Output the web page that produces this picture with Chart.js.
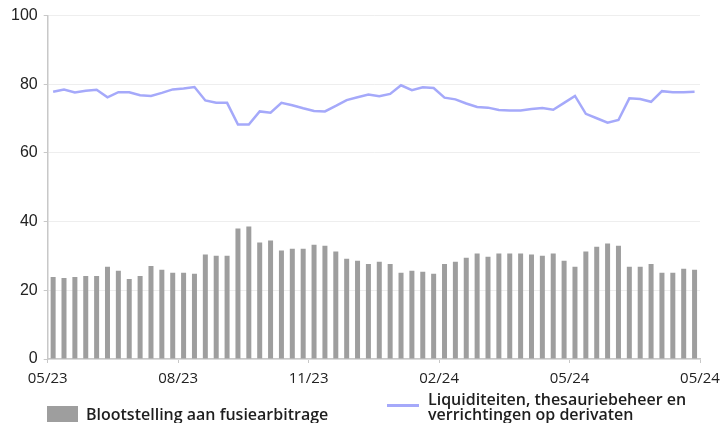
<!DOCTYPE html>
<html>
<head>
<meta charset="utf-8">
<script src="https://cdn.jsdelivr.net/npm/chart.js@4"></script>
<style>
  body { margin: 0; background: #fff; }
  #wrap { position: relative; width: 723px; height: 423px; }
  .legend-text { position: absolute; font: 600 16px "Open Sans", sans-serif; color: #1e1e1e; line-height: 15px; white-space: nowrap; }
  .legend-box { position: absolute; background: #9e9e9e; }
  .legend-line { position: absolute; background: #a5a9fa; }
</style>
</head>
<body>
<div id="wrap">
  <canvas id="chart"></canvas>
  <div class="legend-box" style="left:47px; top:406px; width:31px; height:16px;"></div>
  <div class="legend-text" style="left:86px; top:407px;">Blootstelling aan fusiearbitrage</div>
  <div class="legend-line" style="left:387px; top:404px; width:32px; height:2.5px;"></div>
  <div class="legend-text" style="left:428px; top:392px;">Liquiditeiten, thesauriebeheer en<br>verrichtingen op derivaten</div>
</div>
<script>
// weekly observations, 05/23 .. 05/24
const barValues = [23.9, 23.6, 23.9, 24.2, 24.2, 26.9, 25.7, 23.3, 24.2, 27.1,
                   26.0, 25.1, 25.1, 24.8, 30.4, 30.1, 30.1, 38.0, 38.6, 33.9,
                   34.5, 31.6, 32.1, 32.1, 33.3, 33.0, 31.3, 29.2, 28.6, 27.7,
                   28.3, 27.7, 25.1, 25.7, 25.4, 24.8, 27.7, 28.3, 29.5, 30.7,
                   29.8, 30.7, 30.7, 30.7, 30.4, 30.1, 30.7, 28.6, 26.9, 31.3,
                   32.7, 33.6, 33.0, 26.9, 26.9, 27.7, 25.1, 25.1, 26.3, 26.0];

const lineValues = [77.8, 78.5, 77.6, 78.1, 78.4, 76.2, 77.7, 77.7, 76.8, 76.6,
                    77.5, 78.5, 78.8, 79.2, 75.3, 74.6, 74.6, 68.3, 68.3, 72.1,
                    71.7, 74.6, 73.9, 73.0, 72.2, 72.1, 73.7, 75.4, 76.2, 77.0,
                    76.5, 77.2, 79.7, 78.3, 79.1, 78.9, 76.1, 75.6, 74.4, 73.4,
                    73.2, 72.5, 72.4, 72.4, 72.8, 73.1, 72.6, 74.6, 76.6, 71.4,
                    70.1, 68.8, 69.6, 75.9, 75.7, 74.9, 78.0, 77.7, 77.7, 77.8];

const xTickLabels = ['05/23', '08/23', '11/23', '02/24', '05/24', '05/24'];
const weeksPerTick = 12;

const barLabel = 'Blootstelling aan fusiearbitrage';
const lineLabel = 'Liquiditeiten, thesauriebeheer en verrichtingen op derivaten';

// each week sits in the middle of its slot on the linear x scale
const toPoints = (values) => values.map((v, i) => ({ x: i + 0.5, y: v }));

const ctx = document.getElementById('chart').getContext('2d');
const chart = new Chart(ctx, {
    type: 'bar',
    data: {
        datasets: [
            {
                type: 'line',
                label: lineLabel,
                data: toPoints(lineValues),
                borderColor: '#a5a9fa',
                borderWidth: 2.5,
                pointRadius: 0,
                tension: 0,
                fill: false
            },
            {
                label: barLabel,
                data: toPoints(barValues),
                backgroundColor: '#9e9e9e',
                barPercentage: 0.5,
                categoryPercentage: 0.92
            }
        ]
    },
    options: {
        responsive: true,
        maintainAspectRatio: false,
        animation: false,
        layout: { padding: { top: 11, right: 0, bottom: 28, left: 5 } },
        scales: {
            x: {
                type: 'linear',
                min: 0,
                max: barValues.length,
                offset: false,
                // let the last label hang a little closer to the edge
                afterFit: (scale) => { scale.paddingRight = 23; },
                grid: { drawOnChartArea: false, drawTicks: true, tickLength: 4, color: '#c8c8c8', offset: false },
                border: { color: '#c8c8c8', width: 1.5 },
                ticks: {
                    stepSize: weeksPerTick,
                    autoSkip: false,
                    maxRotation: 0,
                    padding: 7,
                    color: '#222',
                    font: { family: 'Open Sans', size: 15 },
                    callback: (v) => xTickLabels[v / weeksPerTick]
                }
            },
            y: {
                min: 0,
                max: 100,
                grid: { color: '#eeeeee', tickLength: 4, tickColor: '#c8c8c8' },
                border: { color: '#c8c8c8', width: 1.5 },
                ticks: {
                    stepSize: 20,
                    padding: 6,
                    color: '#222',
                    font: { family: 'Liberation Sans', size: 16 }
                }
            }
        },
        plugins: {
            legend: { display: false },
            tooltip: { enabled: false }
        }
    }
});
</script>
</body>
</html>
